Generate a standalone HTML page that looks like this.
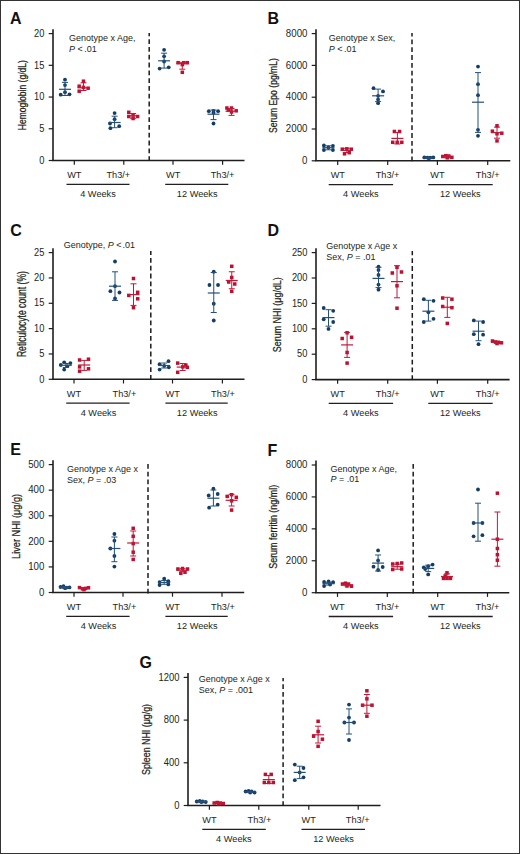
<!DOCTYPE html>
<html><head><meta charset="utf-8"><style>
html,body{margin:0;padding:0;background:#fff;}
body{width:520px;height:854px;overflow:hidden;position:relative;}
.bd{position:absolute;left:0;top:0;width:518px;height:852px;border:1px solid #333;}
svg{display:block;font-family:"Liberation Sans", sans-serif;}
</style></head><body>
<svg width="520" height="854" viewBox="0 0 520 854">
<rect x="0" y="0" width="520" height="854" fill="#fff"/>
<text transform="translate(10.00,23.50) scale(1,1.03)" font-size="16" text-anchor="start" font-weight="bold" fill="#111" >A</text>
<line x1="53" y1="29.199999999999996" x2="53" y2="160.5" stroke="#1e1e1e" stroke-width="1.6"/>
<line x1="48.7" y1="160.5" x2="53" y2="160.5" stroke="#1e1e1e" stroke-width="1.2"/>
<text transform="translate(44.40,163.70) scale(1,1.08)" font-size="9.3" text-anchor="end" font-weight="normal" fill="#231f20" >0</text>
<line x1="48.7" y1="128.775" x2="53" y2="128.775" stroke="#1e1e1e" stroke-width="1.2"/>
<text transform="translate(44.40,131.97) scale(1,1.08)" font-size="9.3" text-anchor="end" font-weight="normal" fill="#231f20" >5</text>
<line x1="48.7" y1="97.05" x2="53" y2="97.05" stroke="#1e1e1e" stroke-width="1.2"/>
<text transform="translate(44.40,100.25) scale(1,1.08)" font-size="9.3" text-anchor="end" font-weight="normal" fill="#231f20" >10</text>
<line x1="48.7" y1="65.325" x2="53" y2="65.325" stroke="#1e1e1e" stroke-width="1.2"/>
<text transform="translate(44.40,68.53) scale(1,1.08)" font-size="9.3" text-anchor="end" font-weight="normal" fill="#231f20" >15</text>
<line x1="48.7" y1="33.599999999999994" x2="53" y2="33.599999999999994" stroke="#1e1e1e" stroke-width="1.2"/>
<text transform="translate(44.40,36.80) scale(1,1.08)" font-size="9.3" text-anchor="end" font-weight="normal" fill="#231f20" >20</text>
<line x1="52.2" y1="160.5" x2="244.5" y2="160.5" stroke="#1e1e1e" stroke-width="1.6"/>
<line x1="74.3" y1="160.5" x2="74.3" y2="164.7" stroke="#1e1e1e" stroke-width="1.2"/>
<line x1="123.8" y1="160.5" x2="123.8" y2="164.7" stroke="#1e1e1e" stroke-width="1.2"/>
<line x1="173" y1="160.5" x2="173" y2="164.7" stroke="#1e1e1e" stroke-width="1.2"/>
<line x1="222.6" y1="160.5" x2="222.6" y2="164.7" stroke="#1e1e1e" stroke-width="1.2"/>
<line x1="149.2" y1="161.0" x2="149.2" y2="33" stroke="#1c1c1c" stroke-width="1.5" stroke-dasharray="4.8 3.0"/>
<text transform="translate(74.30,178.10) scale(1,1.08)" font-size="9.2" text-anchor="middle" font-weight="normal" fill="#231f20" >WT</text>
<text transform="translate(118.30,178.10) scale(1,1.08)" font-size="9.2" text-anchor="middle" font-weight="normal" fill="#231f20" >Th3/+</text>
<text transform="translate(173.20,178.10) scale(1,1.08)" font-size="9.2" text-anchor="middle" font-weight="normal" fill="#231f20" >WT</text>
<text transform="translate(222.60,178.10) scale(1,1.08)" font-size="9.2" text-anchor="middle" font-weight="normal" fill="#231f20" >Th3/+</text>
<line x1="66.5" y1="184.3" x2="129.5" y2="184.3" stroke="#231f20" stroke-width="1.3"/>
<text transform="translate(98.00,197.00) scale(1,1.08)" font-size="9.2" text-anchor="middle" font-weight="normal" fill="#231f20" >4 Weeks</text>
<line x1="165.2" y1="184.3" x2="228.3" y2="184.3" stroke="#231f20" stroke-width="1.3"/>
<text transform="translate(197.20,197.00) scale(1,1.08)" font-size="9.2" text-anchor="middle" font-weight="normal" fill="#231f20" >12 Weeks</text>
<text transform="translate(68.90,41.10) scale(1,1.08)" font-size="9.0" text-anchor="start" font-weight="normal" fill="#231f20" >Genotype x Age,</text>
<text transform="translate(68.90,51.80) scale(1,1.08)" font-size="9.0" text-anchor="start" font-weight="normal" fill="#231f20" ><tspan font-style="italic">P</tspan> &lt;<tspan dx="-1"> .01</tspan></text>
<text transform="translate(25.8,95.2) rotate(-90)" x="0" y="0" font-size="11.6" text-anchor="middle" font-weight="normal" fill="#231f20" stroke="#231f20" stroke-width="0.25" textLength="70" lengthAdjust="spacingAndGlyphs">Hemoglobin (g/dL)</text>
<circle cx="65.00" cy="79.7" r="1.9" fill="#133d65"/>
<circle cx="65.00" cy="85.1" r="1.9" fill="#133d65"/>
<circle cx="65.00" cy="92.2" r="1.9" fill="#133d65"/>
<circle cx="60.70" cy="94.7" r="1.9" fill="#133d65"/>
<circle cx="69.50" cy="94.3" r="1.9" fill="#133d65"/>
<line x1="65" y1="82.4" x2="65" y2="95.5" stroke="#24507a" stroke-width="1"/>
<line x1="62" y1="82.4" x2="68" y2="82.4" stroke="#24507a" stroke-width="1"/>
<line x1="62" y1="95.5" x2="68" y2="95.5" stroke="#24507a" stroke-width="1"/>
<line x1="59" y1="89.3" x2="71" y2="89.3" stroke="#24507a" stroke-width="1.2"/>
<rect x="81.75" y="79.45" width="3.5" height="3.5" fill="#bf0f2f"/>
<rect x="77.45" y="84.45" width="3.5" height="3.5" fill="#bf0f2f"/>
<rect x="81.75" y="85.65" width="3.5" height="3.5" fill="#bf0f2f"/>
<rect x="86.35" y="86.45" width="3.5" height="3.5" fill="#bf0f2f"/>
<rect x="77.45" y="89.45" width="3.5" height="3.5" fill="#bf0f2f"/>
<line x1="83.5" y1="82.8" x2="83.5" y2="90.5" stroke="#bd1a3a" stroke-width="1"/>
<line x1="80.5" y1="82.8" x2="86.5" y2="82.8" stroke="#bd1a3a" stroke-width="1"/>
<line x1="80.5" y1="90.5" x2="86.5" y2="90.5" stroke="#bd1a3a" stroke-width="1"/>
<line x1="77.5" y1="87.8" x2="89.5" y2="87.8" stroke="#bd1a3a" stroke-width="1.2"/>
<circle cx="114.60" cy="113.1" r="1.9" fill="#133d65"/>
<circle cx="114.60" cy="119.2" r="1.9" fill="#133d65"/>
<circle cx="110.00" cy="123.5" r="1.9" fill="#133d65"/>
<circle cx="119.20" cy="126.2" r="1.9" fill="#133d65"/>
<circle cx="110.40" cy="128.2" r="1.9" fill="#133d65"/>
<line x1="114.6" y1="116.2" x2="114.6" y2="127.7" stroke="#24507a" stroke-width="1"/>
<line x1="111.6" y1="116.2" x2="117.6" y2="116.2" stroke="#24507a" stroke-width="1"/>
<line x1="111.6" y1="127.7" x2="117.6" y2="127.7" stroke="#24507a" stroke-width="1"/>
<line x1="108.6" y1="122.5" x2="120.6" y2="122.5" stroke="#24507a" stroke-width="1.2"/>
<rect x="127.05" y="110.55" width="3.5" height="3.5" fill="#bf0f2f"/>
<rect x="127.05" y="114.75" width="3.5" height="3.5" fill="#bf0f2f"/>
<rect x="131.35" y="113.25" width="3.5" height="3.5" fill="#bf0f2f"/>
<rect x="135.85" y="114.75" width="3.5" height="3.5" fill="#bf0f2f"/>
<rect x="131.35" y="116.75" width="3.5" height="3.5" fill="#bf0f2f"/>
<line x1="133.1" y1="113.5" x2="133.1" y2="118.3" stroke="#bd1a3a" stroke-width="1"/>
<line x1="130.1" y1="113.5" x2="136.1" y2="113.5" stroke="#bd1a3a" stroke-width="1"/>
<line x1="130.1" y1="118.3" x2="136.1" y2="118.3" stroke="#bd1a3a" stroke-width="1"/>
<line x1="127.1" y1="115.8" x2="139.1" y2="115.8" stroke="#bd1a3a" stroke-width="1.2"/>
<circle cx="164.10" cy="49.8" r="1.9" fill="#133d65"/>
<circle cx="164.10" cy="56.3" r="1.9" fill="#133d65"/>
<circle cx="164.10" cy="61.5" r="1.9" fill="#133d65"/>
<circle cx="159.60" cy="68.6" r="1.9" fill="#133d65"/>
<circle cx="168.70" cy="67.3" r="1.9" fill="#133d65"/>
<line x1="164.1" y1="53.2" x2="164.1" y2="68.1" stroke="#24507a" stroke-width="1"/>
<line x1="161.1" y1="53.2" x2="167.1" y2="53.2" stroke="#24507a" stroke-width="1"/>
<line x1="161.1" y1="68.1" x2="167.1" y2="68.1" stroke="#24507a" stroke-width="1"/>
<line x1="158.1" y1="60.8" x2="170.1" y2="60.8" stroke="#24507a" stroke-width="1.2"/>
<rect x="176.35" y="60.95" width="3.5" height="3.5" fill="#bf0f2f"/>
<rect x="182.05" y="60.95" width="3.5" height="3.5" fill="#bf0f2f"/>
<rect x="185.55" y="60.95" width="3.5" height="3.5" fill="#bf0f2f"/>
<rect x="180.55" y="62.85" width="3.5" height="3.5" fill="#bf0f2f"/>
<rect x="180.55" y="70.55" width="3.5" height="3.5" fill="#bf0f2f"/>
<line x1="182.3" y1="62.3" x2="182.3" y2="69.2" stroke="#bd1a3a" stroke-width="1"/>
<line x1="179.3" y1="62.3" x2="185.3" y2="62.3" stroke="#bd1a3a" stroke-width="1"/>
<line x1="179.3" y1="69.2" x2="185.3" y2="69.2" stroke="#bd1a3a" stroke-width="1"/>
<line x1="176.3" y1="63.5" x2="188.3" y2="63.5" stroke="#bd1a3a" stroke-width="1.2"/>
<circle cx="208.80" cy="111.2" r="1.9" fill="#133d65"/>
<circle cx="213.50" cy="110.8" r="1.9" fill="#133d65"/>
<circle cx="218.10" cy="111.2" r="1.9" fill="#133d65"/>
<circle cx="213.50" cy="112.7" r="1.9" fill="#133d65"/>
<circle cx="213.50" cy="123.5" r="1.9" fill="#133d65"/>
<line x1="213.5" y1="110" x2="213.5" y2="119.6" stroke="#24507a" stroke-width="1"/>
<line x1="210.5" y1="110" x2="216.5" y2="110" stroke="#24507a" stroke-width="1"/>
<line x1="210.5" y1="119.6" x2="216.5" y2="119.6" stroke="#24507a" stroke-width="1"/>
<line x1="207.5" y1="114.2" x2="219.5" y2="114.2" stroke="#24507a" stroke-width="1.2"/>
<rect x="225.15" y="106.25" width="3.5" height="3.5" fill="#bf0f2f"/>
<rect x="229.75" y="106.25" width="3.5" height="3.5" fill="#bf0f2f"/>
<rect x="234.45" y="109.05" width="3.5" height="3.5" fill="#bf0f2f"/>
<rect x="226.75" y="108.25" width="3.5" height="3.5" fill="#bf0f2f"/>
<rect x="229.75" y="110.25" width="3.5" height="3.5" fill="#bf0f2f"/>
<line x1="231.5" y1="108.5" x2="231.5" y2="115.4" stroke="#bd1a3a" stroke-width="1"/>
<line x1="228.5" y1="108.5" x2="234.5" y2="108.5" stroke="#bd1a3a" stroke-width="1"/>
<line x1="228.5" y1="115.4" x2="234.5" y2="115.4" stroke="#bd1a3a" stroke-width="1"/>
<line x1="225.5" y1="111.2" x2="237.5" y2="111.2" stroke="#bd1a3a" stroke-width="1.2"/>
<text transform="translate(267.50,24.00) scale(1,1.03)" font-size="16" text-anchor="start" font-weight="bold" fill="#111" >B</text>
<line x1="316" y1="29.199999999999996" x2="316" y2="160.8" stroke="#1e1e1e" stroke-width="1.6"/>
<line x1="311.7" y1="160.8" x2="316" y2="160.8" stroke="#1e1e1e" stroke-width="1.2"/>
<text transform="translate(307.40,164.00) scale(1,1.08)" font-size="9.7" text-anchor="end" font-weight="normal" fill="#231f20" >0</text>
<line x1="311.7" y1="129.0" x2="316" y2="129.0" stroke="#1e1e1e" stroke-width="1.2"/>
<text transform="translate(307.40,132.20) scale(1,1.08)" font-size="9.7" text-anchor="end" font-weight="normal" fill="#231f20" >2000</text>
<line x1="311.7" y1="97.2" x2="316" y2="97.2" stroke="#1e1e1e" stroke-width="1.2"/>
<text transform="translate(307.40,100.40) scale(1,1.08)" font-size="9.7" text-anchor="end" font-weight="normal" fill="#231f20" >4000</text>
<line x1="311.7" y1="65.39999999999999" x2="316" y2="65.39999999999999" stroke="#1e1e1e" stroke-width="1.2"/>
<text transform="translate(307.40,68.60) scale(1,1.08)" font-size="9.7" text-anchor="end" font-weight="normal" fill="#231f20" >6000</text>
<line x1="311.7" y1="33.599999999999994" x2="316" y2="33.599999999999994" stroke="#1e1e1e" stroke-width="1.2"/>
<text transform="translate(307.40,36.80) scale(1,1.08)" font-size="9.7" text-anchor="end" font-weight="normal" fill="#231f20" >8000</text>
<line x1="315.2" y1="160.8" x2="510.3" y2="160.8" stroke="#1e1e1e" stroke-width="1.6"/>
<line x1="337.7" y1="160.8" x2="337.7" y2="165.0" stroke="#1e1e1e" stroke-width="1.2"/>
<line x1="387.7" y1="160.8" x2="387.7" y2="165.0" stroke="#1e1e1e" stroke-width="1.2"/>
<line x1="437.4" y1="160.8" x2="437.4" y2="165.0" stroke="#1e1e1e" stroke-width="1.2"/>
<line x1="487.7" y1="160.8" x2="487.7" y2="165.0" stroke="#1e1e1e" stroke-width="1.2"/>
<line x1="412" y1="161.3" x2="412" y2="33" stroke="#1c1c1c" stroke-width="1.5" stroke-dasharray="4.8 3.0"/>
<text transform="translate(337.80,178.40) scale(1,1.08)" font-size="9.2" text-anchor="middle" font-weight="normal" fill="#231f20" >WT</text>
<text transform="translate(387.60,178.40) scale(1,1.08)" font-size="9.2" text-anchor="middle" font-weight="normal" fill="#231f20" >Th3/+</text>
<text transform="translate(437.40,178.40) scale(1,1.08)" font-size="9.2" text-anchor="middle" font-weight="normal" fill="#231f20" >WT</text>
<text transform="translate(487.70,178.40) scale(1,1.08)" font-size="9.2" text-anchor="middle" font-weight="normal" fill="#231f20" >Th3/+</text>
<line x1="328.7" y1="184.60000000000002" x2="393.1" y2="184.60000000000002" stroke="#231f20" stroke-width="1.3"/>
<text transform="translate(360.90,197.30) scale(1,1.08)" font-size="9.2" text-anchor="middle" font-weight="normal" fill="#231f20" >4 Weeks</text>
<line x1="428.3" y1="184.60000000000002" x2="492.7" y2="184.60000000000002" stroke="#231f20" stroke-width="1.3"/>
<text transform="translate(460.30,197.30) scale(1,1.08)" font-size="9.2" text-anchor="middle" font-weight="normal" fill="#231f20" >12 Weeks</text>
<text transform="translate(328.75,41.30) scale(1,1.08)" font-size="9.0" text-anchor="start" font-weight="normal" fill="#231f20" >Genotype x Sex,</text>
<text transform="translate(328.75,51.80) scale(1,1.08)" font-size="9.0" text-anchor="start" font-weight="normal" fill="#231f20" ><tspan font-style="italic">P</tspan> &lt;<tspan dx="-1"> .01</tspan></text>
<text transform="translate(277.3,95.6) rotate(-90)" x="0" y="0" font-size="11.6" text-anchor="middle" font-weight="normal" fill="#231f20" stroke="#231f20" stroke-width="0.25" textLength="75" lengthAdjust="spacingAndGlyphs">Serum Epo (pg/mL)</text>
<circle cx="323.90" cy="145.5" r="1.9" fill="#133d65"/>
<circle cx="332.90" cy="145.8" r="1.9" fill="#133d65"/>
<circle cx="328.40" cy="147.5" r="1.9" fill="#133d65"/>
<circle cx="323.90" cy="150" r="1.9" fill="#133d65"/>
<circle cx="332.90" cy="150" r="1.9" fill="#133d65"/>
<line x1="328.4" y1="145.8" x2="328.4" y2="149.8" stroke="#24507a" stroke-width="1"/>
<line x1="325.4" y1="145.8" x2="331.4" y2="145.8" stroke="#24507a" stroke-width="1"/>
<line x1="325.4" y1="149.8" x2="331.4" y2="149.8" stroke="#24507a" stroke-width="1"/>
<line x1="322.4" y1="147.7" x2="334.4" y2="147.7" stroke="#24507a" stroke-width="1.2"/>
<rect x="340.55" y="147.45" width="3.5" height="3.5" fill="#bf0f2f"/>
<rect x="345.05" y="147.05" width="3.5" height="3.5" fill="#bf0f2f"/>
<rect x="349.55" y="147.45" width="3.5" height="3.5" fill="#bf0f2f"/>
<rect x="342.75" y="152.05" width="3.5" height="3.5" fill="#bf0f2f"/>
<rect x="347.45" y="150.95" width="3.5" height="3.5" fill="#bf0f2f"/>
<line x1="346.8" y1="148.3" x2="346.8" y2="152.5" stroke="#bd1a3a" stroke-width="1"/>
<line x1="343.8" y1="148.3" x2="349.8" y2="148.3" stroke="#bd1a3a" stroke-width="1"/>
<line x1="343.8" y1="152.5" x2="349.8" y2="152.5" stroke="#bd1a3a" stroke-width="1"/>
<line x1="340.8" y1="150.4" x2="352.8" y2="150.4" stroke="#bd1a3a" stroke-width="1.2"/>
<circle cx="373.50" cy="88.2" r="1.9" fill="#133d65"/>
<circle cx="383.00" cy="91.4" r="1.9" fill="#133d65"/>
<circle cx="378.10" cy="95.8" r="1.9" fill="#133d65"/>
<circle cx="378.10" cy="99.5" r="1.9" fill="#133d65"/>
<circle cx="378.10" cy="103.2" r="1.9" fill="#133d65"/>
<line x1="378.1" y1="89.1" x2="378.1" y2="101.6" stroke="#24507a" stroke-width="1"/>
<line x1="375.1" y1="89.1" x2="381.1" y2="89.1" stroke="#24507a" stroke-width="1"/>
<line x1="375.1" y1="101.6" x2="381.1" y2="101.6" stroke="#24507a" stroke-width="1"/>
<line x1="372.1" y1="95.8" x2="384.1" y2="95.8" stroke="#24507a" stroke-width="1.2"/>
<rect x="392.65" y="129.75" width="3.5" height="3.5" fill="#bf0f2f"/>
<rect x="397.85" y="129.75" width="3.5" height="3.5" fill="#bf0f2f"/>
<rect x="390.95" y="140.55" width="3.5" height="3.5" fill="#bf0f2f"/>
<rect x="395.45" y="140.55" width="3.5" height="3.5" fill="#bf0f2f"/>
<rect x="400.05" y="140.55" width="3.5" height="3.5" fill="#bf0f2f"/>
<line x1="397.4" y1="132.5" x2="397.4" y2="144" stroke="#bd1a3a" stroke-width="1"/>
<line x1="394.4" y1="132.5" x2="400.4" y2="132.5" stroke="#bd1a3a" stroke-width="1"/>
<line x1="394.4" y1="144" x2="400.4" y2="144" stroke="#bd1a3a" stroke-width="1"/>
<line x1="391.4" y1="138.4" x2="403.4" y2="138.4" stroke="#bd1a3a" stroke-width="1.2"/>
<circle cx="424.30" cy="157.4" r="1.9" fill="#133d65"/>
<circle cx="427.30" cy="157.6" r="1.9" fill="#133d65"/>
<circle cx="430.30" cy="157.6" r="1.9" fill="#133d65"/>
<circle cx="433.30" cy="157.4" r="1.9" fill="#133d65"/>
<circle cx="428.80" cy="158.2" r="1.9" fill="#133d65"/>
<line x1="428.8" y1="157.2" x2="428.8" y2="158.4" stroke="#24507a" stroke-width="1"/>
<line x1="425.8" y1="157.2" x2="431.8" y2="157.2" stroke="#24507a" stroke-width="1"/>
<line x1="425.8" y1="158.4" x2="431.8" y2="158.4" stroke="#24507a" stroke-width="1"/>
<line x1="422.8" y1="157.8" x2="434.8" y2="157.8" stroke="#24507a" stroke-width="1.2"/>
<rect x="441.05" y="154.75" width="3.5" height="3.5" fill="#bf0f2f"/>
<rect x="444.05" y="153.95" width="3.5" height="3.5" fill="#bf0f2f"/>
<rect x="447.05" y="154.25" width="3.5" height="3.5" fill="#bf0f2f"/>
<rect x="450.05" y="155.55" width="3.5" height="3.5" fill="#bf0f2f"/>
<rect x="445.55" y="156.05" width="3.5" height="3.5" fill="#bf0f2f"/>
<line x1="447.3" y1="155.8" x2="447.3" y2="157.8" stroke="#bd1a3a" stroke-width="1"/>
<line x1="444.3" y1="155.8" x2="450.3" y2="155.8" stroke="#bd1a3a" stroke-width="1"/>
<line x1="444.3" y1="157.8" x2="450.3" y2="157.8" stroke="#bd1a3a" stroke-width="1"/>
<line x1="441.3" y1="156.8" x2="453.3" y2="156.8" stroke="#bd1a3a" stroke-width="1.2"/>
<circle cx="478.00" cy="66.6" r="1.9" fill="#133d65"/>
<circle cx="478.00" cy="84.2" r="1.9" fill="#133d65"/>
<circle cx="478.00" cy="95.2" r="1.9" fill="#133d65"/>
<circle cx="478.00" cy="129.8" r="1.9" fill="#133d65"/>
<circle cx="478.00" cy="135.8" r="1.9" fill="#133d65"/>
<line x1="478" y1="72.6" x2="478" y2="132.4" stroke="#24507a" stroke-width="1"/>
<line x1="475" y1="72.6" x2="481" y2="72.6" stroke="#24507a" stroke-width="1"/>
<line x1="475" y1="132.4" x2="481" y2="132.4" stroke="#24507a" stroke-width="1"/>
<line x1="472" y1="102.2" x2="484" y2="102.2" stroke="#24507a" stroke-width="1.2"/>
<rect x="495.25" y="124.05" width="3.5" height="3.5" fill="#bf0f2f"/>
<rect x="490.65" y="129.45" width="3.5" height="3.5" fill="#bf0f2f"/>
<rect x="500.05" y="131.45" width="3.5" height="3.5" fill="#bf0f2f"/>
<rect x="495.25" y="132.05" width="3.5" height="3.5" fill="#bf0f2f"/>
<rect x="495.25" y="139.15" width="3.5" height="3.5" fill="#bf0f2f"/>
<line x1="497" y1="127.1" x2="497" y2="138.2" stroke="#bd1a3a" stroke-width="1"/>
<line x1="494" y1="127.1" x2="500" y2="127.1" stroke="#bd1a3a" stroke-width="1"/>
<line x1="494" y1="138.2" x2="500" y2="138.2" stroke="#bd1a3a" stroke-width="1"/>
<line x1="491" y1="132.6" x2="503" y2="132.6" stroke="#bd1a3a" stroke-width="1.2"/>
<text transform="translate(10.30,235.50) scale(1,1.03)" font-size="16" text-anchor="start" font-weight="bold" fill="#111" >C</text>
<line x1="53" y1="248.2" x2="53" y2="379.3" stroke="#1e1e1e" stroke-width="1.6"/>
<line x1="48.7" y1="379.3" x2="53" y2="379.3" stroke="#1e1e1e" stroke-width="1.2"/>
<text transform="translate(44.40,382.50) scale(1,1.08)" font-size="9.3" text-anchor="end" font-weight="normal" fill="#231f20" >0</text>
<line x1="48.7" y1="353.96000000000004" x2="53" y2="353.96000000000004" stroke="#1e1e1e" stroke-width="1.2"/>
<text transform="translate(44.40,357.16) scale(1,1.08)" font-size="9.3" text-anchor="end" font-weight="normal" fill="#231f20" >5</text>
<line x1="48.7" y1="328.62" x2="53" y2="328.62" stroke="#1e1e1e" stroke-width="1.2"/>
<text transform="translate(44.40,331.82) scale(1,1.08)" font-size="9.3" text-anchor="end" font-weight="normal" fill="#231f20" >10</text>
<line x1="48.7" y1="303.28" x2="53" y2="303.28" stroke="#1e1e1e" stroke-width="1.2"/>
<text transform="translate(44.40,306.48) scale(1,1.08)" font-size="9.3" text-anchor="end" font-weight="normal" fill="#231f20" >15</text>
<line x1="48.7" y1="277.94" x2="53" y2="277.94" stroke="#1e1e1e" stroke-width="1.2"/>
<text transform="translate(44.40,281.14) scale(1,1.08)" font-size="9.3" text-anchor="end" font-weight="normal" fill="#231f20" >20</text>
<line x1="48.7" y1="252.6" x2="53" y2="252.6" stroke="#1e1e1e" stroke-width="1.2"/>
<text transform="translate(44.40,255.80) scale(1,1.08)" font-size="9.3" text-anchor="end" font-weight="normal" fill="#231f20" >25</text>
<line x1="52.2" y1="379.3" x2="244.5" y2="379.3" stroke="#1e1e1e" stroke-width="1.6"/>
<line x1="74" y1="379.3" x2="74" y2="383.5" stroke="#1e1e1e" stroke-width="1.2"/>
<line x1="123.5" y1="379.3" x2="123.5" y2="383.5" stroke="#1e1e1e" stroke-width="1.2"/>
<line x1="172.5" y1="379.3" x2="172.5" y2="383.5" stroke="#1e1e1e" stroke-width="1.2"/>
<line x1="222.4" y1="379.3" x2="222.4" y2="383.5" stroke="#1e1e1e" stroke-width="1.2"/>
<line x1="150.8" y1="379.8" x2="150.8" y2="251" stroke="#1c1c1c" stroke-width="1.5" stroke-dasharray="4.8 3.0"/>
<text transform="translate(74.00,396.90) scale(1,1.08)" font-size="9.2" text-anchor="middle" font-weight="normal" fill="#231f20" >WT</text>
<text transform="translate(124.40,396.90) scale(1,1.08)" font-size="9.2" text-anchor="middle" font-weight="normal" fill="#231f20" >Th3/+</text>
<text transform="translate(172.70,396.90) scale(1,1.08)" font-size="9.2" text-anchor="middle" font-weight="normal" fill="#231f20" >WT</text>
<text transform="translate(223.00,396.90) scale(1,1.08)" font-size="9.2" text-anchor="middle" font-weight="normal" fill="#231f20" >Th3/+</text>
<line x1="66.2" y1="403.1" x2="129.6" y2="403.1" stroke="#231f20" stroke-width="1.3"/>
<text transform="translate(98.50,415.80) scale(1,1.08)" font-size="9.2" text-anchor="middle" font-weight="normal" fill="#231f20" >4 Weeks</text>
<line x1="165.4" y1="403.1" x2="227.7" y2="403.1" stroke="#231f20" stroke-width="1.3"/>
<text transform="translate(197.20,415.80) scale(1,1.08)" font-size="9.2" text-anchor="middle" font-weight="normal" fill="#231f20" >12 Weeks</text>
<text transform="translate(63.75,248.40) scale(1,1.08)" font-size="9.0" text-anchor="start" font-weight="normal" fill="#231f20" >Genotype, <tspan font-style="italic">P</tspan> &lt;<tspan dx="-1.4"> .01</tspan></text>
<text transform="translate(26.2,314.1) rotate(-90)" x="0" y="0" font-size="12.0" text-anchor="middle" font-weight="normal" fill="#231f20" stroke="#231f20" stroke-width="0.25" textLength="86" lengthAdjust="spacingAndGlyphs">Reticulocyte count (%)</text>
<circle cx="60.80" cy="365" r="1.9" fill="#133d65"/>
<circle cx="64.20" cy="362.3" r="1.9" fill="#133d65"/>
<circle cx="70.40" cy="363.1" r="1.9" fill="#133d65"/>
<circle cx="67.30" cy="366.2" r="1.9" fill="#133d65"/>
<circle cx="64.20" cy="369.6" r="1.9" fill="#133d65"/>
<line x1="65.8" y1="363.5" x2="65.8" y2="367.5" stroke="#24507a" stroke-width="1"/>
<line x1="62.8" y1="363.5" x2="68.8" y2="363.5" stroke="#24507a" stroke-width="1"/>
<line x1="62.8" y1="367.5" x2="68.8" y2="367.5" stroke="#24507a" stroke-width="1"/>
<line x1="59.8" y1="365.3" x2="71.8" y2="365.3" stroke="#24507a" stroke-width="1.2"/>
<rect x="77.85" y="358.25" width="3.5" height="3.5" fill="#bf0f2f"/>
<rect x="86.75" y="357.45" width="3.5" height="3.5" fill="#bf0f2f"/>
<rect x="77.85" y="365.15" width="3.5" height="3.5" fill="#bf0f2f"/>
<rect x="86.75" y="367.05" width="3.5" height="3.5" fill="#bf0f2f"/>
<rect x="77.85" y="369.45" width="3.5" height="3.5" fill="#bf0f2f"/>
<line x1="84.2" y1="360.4" x2="84.2" y2="370.4" stroke="#bd1a3a" stroke-width="1"/>
<line x1="81.2" y1="360.4" x2="87.2" y2="360.4" stroke="#bd1a3a" stroke-width="1"/>
<line x1="81.2" y1="370.4" x2="87.2" y2="370.4" stroke="#bd1a3a" stroke-width="1"/>
<line x1="78.2" y1="365" x2="90.2" y2="365" stroke="#bd1a3a" stroke-width="1.2"/>
<circle cx="115.00" cy="261.5" r="1.9" fill="#133d65"/>
<circle cx="115.00" cy="286.2" r="1.9" fill="#133d65"/>
<circle cx="110.40" cy="291.2" r="1.9" fill="#133d65"/>
<circle cx="119.50" cy="292.5" r="1.9" fill="#133d65"/>
<circle cx="115.00" cy="298.5" r="1.9" fill="#133d65"/>
<line x1="115" y1="271.8" x2="115" y2="300.4" stroke="#24507a" stroke-width="1"/>
<line x1="112" y1="271.8" x2="118" y2="271.8" stroke="#24507a" stroke-width="1"/>
<line x1="112" y1="300.4" x2="118" y2="300.4" stroke="#24507a" stroke-width="1"/>
<line x1="109" y1="286.2" x2="121" y2="286.2" stroke="#24507a" stroke-width="1.2"/>
<rect x="131.75" y="276.75" width="3.5" height="3.5" fill="#bf0f2f"/>
<rect x="135.95" y="290.55" width="3.5" height="3.5" fill="#bf0f2f"/>
<rect x="127.05" y="293.65" width="3.5" height="3.5" fill="#bf0f2f"/>
<rect x="135.95" y="297.05" width="3.5" height="3.5" fill="#bf0f2f"/>
<rect x="131.75" y="305.95" width="3.5" height="3.5" fill="#bf0f2f"/>
<line x1="133.5" y1="283.8" x2="133.5" y2="305.4" stroke="#bd1a3a" stroke-width="1"/>
<line x1="130.5" y1="283.8" x2="136.5" y2="283.8" stroke="#bd1a3a" stroke-width="1"/>
<line x1="130.5" y1="305.4" x2="136.5" y2="305.4" stroke="#bd1a3a" stroke-width="1"/>
<line x1="127.5" y1="294.6" x2="139.5" y2="294.6" stroke="#bd1a3a" stroke-width="1.2"/>
<circle cx="168.50" cy="361.2" r="1.9" fill="#133d65"/>
<circle cx="159.60" cy="364.2" r="1.9" fill="#133d65"/>
<circle cx="164.20" cy="365.8" r="1.9" fill="#133d65"/>
<circle cx="168.80" cy="367.3" r="1.9" fill="#133d65"/>
<circle cx="159.60" cy="369.6" r="1.9" fill="#133d65"/>
<line x1="164.2" y1="363" x2="164.2" y2="368" stroke="#24507a" stroke-width="1"/>
<line x1="161.2" y1="363" x2="167.2" y2="363" stroke="#24507a" stroke-width="1"/>
<line x1="161.2" y1="368" x2="167.2" y2="368" stroke="#24507a" stroke-width="1"/>
<line x1="158.2" y1="365.5" x2="170.2" y2="365.5" stroke="#24507a" stroke-width="1.2"/>
<rect x="175.95" y="361.35" width="3.5" height="3.5" fill="#bf0f2f"/>
<rect x="184.05" y="363.25" width="3.5" height="3.5" fill="#bf0f2f"/>
<rect x="180.95" y="365.15" width="3.5" height="3.5" fill="#bf0f2f"/>
<rect x="185.55" y="365.55" width="3.5" height="3.5" fill="#bf0f2f"/>
<rect x="175.95" y="370.55" width="3.5" height="3.5" fill="#bf0f2f"/>
<line x1="182.7" y1="363.5" x2="182.7" y2="370.5" stroke="#bd1a3a" stroke-width="1"/>
<line x1="179.7" y1="363.5" x2="185.7" y2="363.5" stroke="#bd1a3a" stroke-width="1"/>
<line x1="179.7" y1="370.5" x2="185.7" y2="370.5" stroke="#bd1a3a" stroke-width="1"/>
<line x1="176.7" y1="367.1" x2="188.7" y2="367.1" stroke="#bd1a3a" stroke-width="1.2"/>
<circle cx="213.75" cy="271.75" r="1.9" fill="#133d65"/>
<circle cx="209.45" cy="285" r="1.9" fill="#133d65"/>
<circle cx="218.05" cy="285" r="1.9" fill="#133d65"/>
<circle cx="213.75" cy="303.75" r="1.9" fill="#133d65"/>
<circle cx="213.75" cy="320.5" r="1.9" fill="#133d65"/>
<line x1="213.75" y1="272.5" x2="213.75" y2="312.5" stroke="#24507a" stroke-width="1"/>
<line x1="210.75" y1="272.5" x2="216.75" y2="272.5" stroke="#24507a" stroke-width="1"/>
<line x1="210.75" y1="312.5" x2="216.75" y2="312.5" stroke="#24507a" stroke-width="1"/>
<line x1="207.75" y1="293" x2="219.75" y2="293" stroke="#24507a" stroke-width="1.2"/>
<rect x="230.00" y="264.55" width="3.5" height="3.5" fill="#bf0f2f"/>
<rect x="230.00" y="275.75" width="3.5" height="3.5" fill="#bf0f2f"/>
<rect x="227.00" y="280.25" width="3.5" height="3.5" fill="#bf0f2f"/>
<rect x="233.00" y="282.25" width="3.5" height="3.5" fill="#bf0f2f"/>
<rect x="230.00" y="289.55" width="3.5" height="3.5" fill="#bf0f2f"/>
<line x1="231.75" y1="271.75" x2="231.75" y2="288.75" stroke="#bd1a3a" stroke-width="1"/>
<line x1="228.75" y1="271.75" x2="234.75" y2="271.75" stroke="#bd1a3a" stroke-width="1"/>
<line x1="228.75" y1="288.75" x2="234.75" y2="288.75" stroke="#bd1a3a" stroke-width="1"/>
<line x1="225.75" y1="280.5" x2="237.75" y2="280.5" stroke="#bd1a3a" stroke-width="1.2"/>
<text transform="translate(267.50,236.30) scale(1,1.03)" font-size="16" text-anchor="start" font-weight="bold" fill="#111" >D</text>
<line x1="316" y1="248.2" x2="316" y2="379.6" stroke="#1e1e1e" stroke-width="1.6"/>
<line x1="311.7" y1="379.6" x2="316" y2="379.6" stroke="#1e1e1e" stroke-width="1.2"/>
<text transform="translate(307.40,382.80) scale(1,1.08)" font-size="9.3" text-anchor="end" font-weight="normal" fill="#231f20" >0</text>
<line x1="311.7" y1="354.20000000000005" x2="316" y2="354.20000000000005" stroke="#1e1e1e" stroke-width="1.2"/>
<text transform="translate(307.40,357.40) scale(1,1.08)" font-size="9.3" text-anchor="end" font-weight="normal" fill="#231f20" >50</text>
<line x1="311.7" y1="328.8" x2="316" y2="328.8" stroke="#1e1e1e" stroke-width="1.2"/>
<text transform="translate(307.40,332.00) scale(1,1.08)" font-size="9.3" text-anchor="end" font-weight="normal" fill="#231f20" >100</text>
<line x1="311.7" y1="303.4" x2="316" y2="303.4" stroke="#1e1e1e" stroke-width="1.2"/>
<text transform="translate(307.40,306.60) scale(1,1.08)" font-size="9.3" text-anchor="end" font-weight="normal" fill="#231f20" >150</text>
<line x1="311.7" y1="278.0" x2="316" y2="278.0" stroke="#1e1e1e" stroke-width="1.2"/>
<text transform="translate(307.40,281.20) scale(1,1.08)" font-size="9.3" text-anchor="end" font-weight="normal" fill="#231f20" >200</text>
<line x1="311.7" y1="252.6" x2="316" y2="252.6" stroke="#1e1e1e" stroke-width="1.2"/>
<text transform="translate(307.40,255.80) scale(1,1.08)" font-size="9.3" text-anchor="end" font-weight="normal" fill="#231f20" >250</text>
<line x1="315.2" y1="379.6" x2="509.6" y2="379.6" stroke="#1e1e1e" stroke-width="1.6"/>
<line x1="337.6" y1="379.6" x2="337.6" y2="383.8" stroke="#1e1e1e" stroke-width="1.2"/>
<line x1="387.7" y1="379.6" x2="387.7" y2="383.8" stroke="#1e1e1e" stroke-width="1.2"/>
<line x1="437.4" y1="379.6" x2="437.4" y2="383.8" stroke="#1e1e1e" stroke-width="1.2"/>
<line x1="487.7" y1="379.6" x2="487.7" y2="383.8" stroke="#1e1e1e" stroke-width="1.2"/>
<line x1="412.3" y1="380.1" x2="412.3" y2="251" stroke="#1c1c1c" stroke-width="1.5" stroke-dasharray="4.8 3.0"/>
<text transform="translate(337.60,397.20) scale(1,1.08)" font-size="9.2" text-anchor="middle" font-weight="normal" fill="#231f20" >WT</text>
<text transform="translate(387.70,397.20) scale(1,1.08)" font-size="9.2" text-anchor="middle" font-weight="normal" fill="#231f20" >Th3/+</text>
<text transform="translate(437.40,397.20) scale(1,1.08)" font-size="9.2" text-anchor="middle" font-weight="normal" fill="#231f20" >WT</text>
<text transform="translate(487.70,397.20) scale(1,1.08)" font-size="9.2" text-anchor="middle" font-weight="normal" fill="#231f20" >Th3/+</text>
<line x1="328.7" y1="403.40000000000003" x2="393.1" y2="403.40000000000003" stroke="#231f20" stroke-width="1.3"/>
<text transform="translate(360.90,416.10) scale(1,1.08)" font-size="9.2" text-anchor="middle" font-weight="normal" fill="#231f20" >4 Weeks</text>
<line x1="428.3" y1="403.40000000000003" x2="492.7" y2="403.40000000000003" stroke="#231f20" stroke-width="1.3"/>
<text transform="translate(460.30,416.10) scale(1,1.08)" font-size="9.2" text-anchor="middle" font-weight="normal" fill="#231f20" >12 Weeks</text>
<text transform="translate(326.25,249.00) scale(1,1.08)" font-size="9.0" text-anchor="start" font-weight="normal" fill="#231f20" >Genotype x Age x</text>
<text transform="translate(326.25,259.60) scale(1,1.08)" font-size="9.0" text-anchor="start" font-weight="normal" fill="#231f20" >Sex, <tspan font-style="italic">P</tspan> = .01</text>
<text transform="translate(281.2,314.7) rotate(-90)" x="0" y="0" font-size="11.6" text-anchor="middle" font-weight="normal" fill="#231f20" stroke="#231f20" stroke-width="0.25" textLength="75" lengthAdjust="spacingAndGlyphs">Serum NHI (μg/dL)</text>
<circle cx="323.70" cy="308" r="1.9" fill="#133d65"/>
<circle cx="333.20" cy="310.8" r="1.9" fill="#133d65"/>
<circle cx="323.70" cy="319.3" r="1.9" fill="#133d65"/>
<circle cx="333.20" cy="322" r="1.9" fill="#133d65"/>
<circle cx="328.50" cy="328.9" r="1.9" fill="#133d65"/>
<line x1="328.5" y1="309.7" x2="328.5" y2="326.2" stroke="#24507a" stroke-width="1"/>
<line x1="325.5" y1="309.7" x2="331.5" y2="309.7" stroke="#24507a" stroke-width="1"/>
<line x1="325.5" y1="326.2" x2="331.5" y2="326.2" stroke="#24507a" stroke-width="1"/>
<line x1="322.5" y1="317.6" x2="334.5" y2="317.6" stroke="#24507a" stroke-width="1.2"/>
<rect x="345.35" y="331.05" width="3.5" height="3.5" fill="#bf0f2f"/>
<rect x="340.45" y="336.75" width="3.5" height="3.5" fill="#bf0f2f"/>
<rect x="349.85" y="335.55" width="3.5" height="3.5" fill="#bf0f2f"/>
<rect x="345.35" y="350.75" width="3.5" height="3.5" fill="#bf0f2f"/>
<rect x="345.35" y="361.35" width="3.5" height="3.5" fill="#bf0f2f"/>
<line x1="347.1" y1="332.4" x2="347.1" y2="357.4" stroke="#bd1a3a" stroke-width="1"/>
<line x1="344.1" y1="332.4" x2="350.1" y2="332.4" stroke="#bd1a3a" stroke-width="1"/>
<line x1="344.1" y1="357.4" x2="350.1" y2="357.4" stroke="#bd1a3a" stroke-width="1"/>
<line x1="341.1" y1="344.9" x2="353.1" y2="344.9" stroke="#bd1a3a" stroke-width="1.2"/>
<circle cx="378.50" cy="266.6" r="1.9" fill="#133d65"/>
<circle cx="378.50" cy="270" r="1.9" fill="#133d65"/>
<circle cx="378.50" cy="275" r="1.9" fill="#133d65"/>
<circle cx="378.50" cy="284.6" r="1.9" fill="#133d65"/>
<circle cx="378.50" cy="289.7" r="1.9" fill="#133d65"/>
<line x1="378.5" y1="267.3" x2="378.5" y2="287.6" stroke="#24507a" stroke-width="1"/>
<line x1="375.5" y1="267.3" x2="381.5" y2="267.3" stroke="#24507a" stroke-width="1"/>
<line x1="375.5" y1="287.6" x2="381.5" y2="287.6" stroke="#24507a" stroke-width="1"/>
<line x1="372.5" y1="278.4" x2="384.5" y2="278.4" stroke="#24507a" stroke-width="1.2"/>
<rect x="395.25" y="265.55" width="3.5" height="3.5" fill="#bf0f2f"/>
<rect x="390.55" y="271.25" width="3.5" height="3.5" fill="#bf0f2f"/>
<rect x="399.75" y="270.25" width="3.5" height="3.5" fill="#bf0f2f"/>
<rect x="395.25" y="284.05" width="3.5" height="3.5" fill="#bf0f2f"/>
<rect x="395.25" y="306.45" width="3.5" height="3.5" fill="#bf0f2f"/>
<line x1="397" y1="265.7" x2="397" y2="297.8" stroke="#bd1a3a" stroke-width="1"/>
<line x1="394" y1="265.7" x2="400" y2="265.7" stroke="#bd1a3a" stroke-width="1"/>
<line x1="394" y1="297.8" x2="400" y2="297.8" stroke="#bd1a3a" stroke-width="1"/>
<line x1="391" y1="281.6" x2="403" y2="281.6" stroke="#bd1a3a" stroke-width="1.2"/>
<circle cx="423.80" cy="299.2" r="1.9" fill="#133d65"/>
<circle cx="433.50" cy="300.8" r="1.9" fill="#133d65"/>
<circle cx="428.40" cy="312.3" r="1.9" fill="#133d65"/>
<circle cx="433.50" cy="318.8" r="1.9" fill="#133d65"/>
<circle cx="423.80" cy="322" r="1.9" fill="#133d65"/>
<line x1="428.4" y1="300.3" x2="428.4" y2="321.1" stroke="#24507a" stroke-width="1"/>
<line x1="425.4" y1="300.3" x2="431.4" y2="300.3" stroke="#24507a" stroke-width="1"/>
<line x1="425.4" y1="321.1" x2="431.4" y2="321.1" stroke="#24507a" stroke-width="1"/>
<line x1="422.4" y1="311.2" x2="434.4" y2="311.2" stroke="#24507a" stroke-width="1.2"/>
<rect x="440.95" y="296.25" width="3.5" height="3.5" fill="#bf0f2f"/>
<rect x="450.15" y="297.45" width="3.5" height="3.5" fill="#bf0f2f"/>
<rect x="440.95" y="304.75" width="3.5" height="3.5" fill="#bf0f2f"/>
<rect x="450.15" y="305.95" width="3.5" height="3.5" fill="#bf0f2f"/>
<rect x="445.55" y="321.65" width="3.5" height="3.5" fill="#bf0f2f"/>
<line x1="447.3" y1="297.3" x2="447.3" y2="317.4" stroke="#bd1a3a" stroke-width="1"/>
<line x1="444.3" y1="297.3" x2="450.3" y2="297.3" stroke="#bd1a3a" stroke-width="1"/>
<line x1="444.3" y1="317.4" x2="450.3" y2="317.4" stroke="#bd1a3a" stroke-width="1"/>
<line x1="441.3" y1="307.2" x2="453.3" y2="307.2" stroke="#bd1a3a" stroke-width="1.2"/>
<circle cx="473.80" cy="320.4" r="1.9" fill="#133d65"/>
<circle cx="483.10" cy="322" r="1.9" fill="#133d65"/>
<circle cx="473.80" cy="334.2" r="1.9" fill="#133d65"/>
<circle cx="483.10" cy="334.7" r="1.9" fill="#133d65"/>
<circle cx="478.50" cy="344.2" r="1.9" fill="#133d65"/>
<line x1="478.5" y1="321.1" x2="478.5" y2="340.7" stroke="#24507a" stroke-width="1"/>
<line x1="475.5" y1="321.1" x2="481.5" y2="321.1" stroke="#24507a" stroke-width="1"/>
<line x1="475.5" y1="340.7" x2="481.5" y2="340.7" stroke="#24507a" stroke-width="1"/>
<line x1="472.5" y1="331.2" x2="484.5" y2="331.2" stroke="#24507a" stroke-width="1.2"/>
<rect x="490.75" y="339.25" width="3.5" height="3.5" fill="#bf0f2f"/>
<rect x="493.75" y="340.25" width="3.5" height="3.5" fill="#bf0f2f"/>
<rect x="496.75" y="340.75" width="3.5" height="3.5" fill="#bf0f2f"/>
<rect x="499.75" y="341.05" width="3.5" height="3.5" fill="#bf0f2f"/>
<rect x="495.25" y="341.75" width="3.5" height="3.5" fill="#bf0f2f"/>
<line x1="497" y1="341.2" x2="497" y2="343.4" stroke="#bd1a3a" stroke-width="1"/>
<line x1="494" y1="341.2" x2="500" y2="341.2" stroke="#bd1a3a" stroke-width="1"/>
<line x1="494" y1="343.4" x2="500" y2="343.4" stroke="#bd1a3a" stroke-width="1"/>
<line x1="491" y1="342.3" x2="503" y2="342.3" stroke="#bd1a3a" stroke-width="1.2"/>
<text transform="translate(10.30,455.30) scale(1,1.03)" font-size="16" text-anchor="start" font-weight="bold" fill="#111" >E</text>
<line x1="53" y1="460.20000000000005" x2="53" y2="592.5" stroke="#1e1e1e" stroke-width="1.6"/>
<line x1="48.7" y1="592.5" x2="53" y2="592.5" stroke="#1e1e1e" stroke-width="1.2"/>
<text transform="translate(44.40,595.70) scale(1,1.08)" font-size="9.7" text-anchor="end" font-weight="normal" fill="#231f20" >0</text>
<line x1="48.7" y1="566.92" x2="53" y2="566.92" stroke="#1e1e1e" stroke-width="1.2"/>
<text transform="translate(44.40,570.12) scale(1,1.08)" font-size="9.7" text-anchor="end" font-weight="normal" fill="#231f20" >100</text>
<line x1="48.7" y1="541.34" x2="53" y2="541.34" stroke="#1e1e1e" stroke-width="1.2"/>
<text transform="translate(44.40,544.54) scale(1,1.08)" font-size="9.7" text-anchor="end" font-weight="normal" fill="#231f20" >200</text>
<line x1="48.7" y1="515.76" x2="53" y2="515.76" stroke="#1e1e1e" stroke-width="1.2"/>
<text transform="translate(44.40,518.96) scale(1,1.08)" font-size="9.7" text-anchor="end" font-weight="normal" fill="#231f20" >300</text>
<line x1="48.7" y1="490.18" x2="53" y2="490.18" stroke="#1e1e1e" stroke-width="1.2"/>
<text transform="translate(44.40,493.38) scale(1,1.08)" font-size="9.7" text-anchor="end" font-weight="normal" fill="#231f20" >400</text>
<line x1="48.7" y1="464.6" x2="53" y2="464.6" stroke="#1e1e1e" stroke-width="1.2"/>
<text transform="translate(44.40,467.80) scale(1,1.08)" font-size="9.7" text-anchor="end" font-weight="normal" fill="#231f20" >500</text>
<line x1="52.2" y1="592.5" x2="244.2" y2="592.5" stroke="#1e1e1e" stroke-width="1.6"/>
<line x1="74" y1="592.5" x2="74" y2="596.7" stroke="#1e1e1e" stroke-width="1.2"/>
<line x1="123" y1="592.5" x2="123" y2="596.7" stroke="#1e1e1e" stroke-width="1.2"/>
<line x1="172.5" y1="592.5" x2="172.5" y2="596.7" stroke="#1e1e1e" stroke-width="1.2"/>
<line x1="222" y1="592.5" x2="222" y2="596.7" stroke="#1e1e1e" stroke-width="1.2"/>
<line x1="148.0" y1="593.5" x2="148.0" y2="463.5" stroke="#1c1c1c" stroke-width="1.5" stroke-dasharray="4.8 3.0"/>
<text transform="translate(74.00,610.10) scale(1,1.08)" font-size="9.2" text-anchor="middle" font-weight="normal" fill="#231f20" >WT</text>
<text transform="translate(124.40,610.10) scale(1,1.08)" font-size="9.2" text-anchor="middle" font-weight="normal" fill="#231f20" >Th3/+</text>
<text transform="translate(172.70,610.10) scale(1,1.08)" font-size="9.2" text-anchor="middle" font-weight="normal" fill="#231f20" >WT</text>
<text transform="translate(223.00,610.10) scale(1,1.08)" font-size="9.2" text-anchor="middle" font-weight="normal" fill="#231f20" >Th3/+</text>
<line x1="66.2" y1="616.3" x2="129.6" y2="616.3" stroke="#231f20" stroke-width="1.3"/>
<text transform="translate(98.50,629.00) scale(1,1.08)" font-size="9.2" text-anchor="middle" font-weight="normal" fill="#231f20" >4 Weeks</text>
<line x1="165.4" y1="616.3" x2="227.7" y2="616.3" stroke="#231f20" stroke-width="1.3"/>
<text transform="translate(197.20,629.00) scale(1,1.08)" font-size="9.2" text-anchor="middle" font-weight="normal" fill="#231f20" >12 Weeks</text>
<text transform="translate(67.00,472.40) scale(1,1.08)" font-size="9.0" text-anchor="start" font-weight="normal" fill="#231f20" >Genotype x Age x</text>
<text transform="translate(67.00,482.50) scale(1,1.08)" font-size="9.0" text-anchor="start" font-weight="normal" fill="#231f20" >Sex, <tspan font-style="italic">P</tspan> = .03</text>
<text transform="translate(19.6,526.4) rotate(-90)" x="0" y="0" font-size="11.6" text-anchor="middle" font-weight="normal" fill="#231f20" stroke="#231f20" stroke-width="0.25" textLength="65" lengthAdjust="spacingAndGlyphs">Liver NHI (μg/g)</text>
<circle cx="60.50" cy="587" r="1.9" fill="#133d65"/>
<circle cx="63.50" cy="586.2" r="1.9" fill="#133d65"/>
<circle cx="66.50" cy="587.6" r="1.9" fill="#133d65"/>
<circle cx="69.50" cy="587.4" r="1.9" fill="#133d65"/>
<circle cx="65.00" cy="588.2" r="1.9" fill="#133d65"/>
<line x1="65" y1="586.5" x2="65" y2="588.3" stroke="#24507a" stroke-width="1"/>
<line x1="62" y1="586.5" x2="68" y2="586.5" stroke="#24507a" stroke-width="1"/>
<line x1="62" y1="588.3" x2="68" y2="588.3" stroke="#24507a" stroke-width="1"/>
<line x1="59" y1="587.4" x2="71" y2="587.4" stroke="#24507a" stroke-width="1.2"/>
<rect x="77.75" y="585.85" width="3.5" height="3.5" fill="#bf0f2f"/>
<rect x="80.75" y="587.05" width="3.5" height="3.5" fill="#bf0f2f"/>
<rect x="83.75" y="586.65" width="3.5" height="3.5" fill="#bf0f2f"/>
<rect x="86.75" y="586.05" width="3.5" height="3.5" fill="#bf0f2f"/>
<rect x="82.25" y="587.85" width="3.5" height="3.5" fill="#bf0f2f"/>
<line x1="84" y1="587.6" x2="84" y2="589.2" stroke="#bd1a3a" stroke-width="1"/>
<line x1="81" y1="587.6" x2="87" y2="587.6" stroke="#bd1a3a" stroke-width="1"/>
<line x1="81" y1="589.2" x2="87" y2="589.2" stroke="#bd1a3a" stroke-width="1"/>
<line x1="78" y1="588.4" x2="90" y2="588.4" stroke="#bd1a3a" stroke-width="1.2"/>
<circle cx="114.40" cy="534" r="1.9" fill="#133d65"/>
<circle cx="114.40" cy="540.7" r="1.9" fill="#133d65"/>
<circle cx="110.40" cy="548.5" r="1.9" fill="#133d65"/>
<circle cx="114.40" cy="556" r="1.9" fill="#133d65"/>
<circle cx="114.40" cy="566.6" r="1.9" fill="#133d65"/>
<line x1="114.4" y1="537" x2="114.4" y2="561.7" stroke="#24507a" stroke-width="1"/>
<line x1="111.4" y1="537" x2="117.4" y2="537" stroke="#24507a" stroke-width="1"/>
<line x1="111.4" y1="561.7" x2="117.4" y2="561.7" stroke="#24507a" stroke-width="1"/>
<line x1="108.4" y1="548.5" x2="120.4" y2="548.5" stroke="#24507a" stroke-width="1.2"/>
<rect x="131.45" y="526.55" width="3.5" height="3.5" fill="#bf0f2f"/>
<rect x="131.45" y="534.55" width="3.5" height="3.5" fill="#bf0f2f"/>
<rect x="131.45" y="541.85" width="3.5" height="3.5" fill="#bf0f2f"/>
<rect x="131.45" y="550.45" width="3.5" height="3.5" fill="#bf0f2f"/>
<rect x="131.45" y="557.65" width="3.5" height="3.5" fill="#bf0f2f"/>
<line x1="133.2" y1="531" x2="133.2" y2="556" stroke="#bd1a3a" stroke-width="1"/>
<line x1="130.2" y1="531" x2="136.2" y2="531" stroke="#bd1a3a" stroke-width="1"/>
<line x1="130.2" y1="556" x2="136.2" y2="556" stroke="#bd1a3a" stroke-width="1"/>
<line x1="127.19999999999999" y1="543" x2="139.2" y2="543" stroke="#bd1a3a" stroke-width="1.2"/>
<circle cx="164.20" cy="578.7" r="1.9" fill="#133d65"/>
<circle cx="159.60" cy="582.1" r="1.9" fill="#133d65"/>
<circle cx="168.30" cy="581.2" r="1.9" fill="#133d65"/>
<circle cx="159.60" cy="585" r="1.9" fill="#133d65"/>
<circle cx="168.30" cy="584.4" r="1.9" fill="#133d65"/>
<line x1="164.2" y1="580.5" x2="164.2" y2="584.3" stroke="#24507a" stroke-width="1"/>
<line x1="161.2" y1="580.5" x2="167.2" y2="580.5" stroke="#24507a" stroke-width="1"/>
<line x1="161.2" y1="584.3" x2="167.2" y2="584.3" stroke="#24507a" stroke-width="1"/>
<line x1="158.2" y1="582.5" x2="170.2" y2="582.5" stroke="#24507a" stroke-width="1.2"/>
<rect x="176.15" y="567.25" width="3.5" height="3.5" fill="#bf0f2f"/>
<rect x="180.75" y="566.75" width="3.5" height="3.5" fill="#bf0f2f"/>
<rect x="185.75" y="567.25" width="3.5" height="3.5" fill="#bf0f2f"/>
<rect x="179.05" y="571.55" width="3.5" height="3.5" fill="#bf0f2f"/>
<rect x="183.25" y="570.45" width="3.5" height="3.5" fill="#bf0f2f"/>
<line x1="182.5" y1="568.7" x2="182.5" y2="571.7" stroke="#bd1a3a" stroke-width="1"/>
<line x1="179.5" y1="568.7" x2="185.5" y2="568.7" stroke="#bd1a3a" stroke-width="1"/>
<line x1="179.5" y1="571.7" x2="185.5" y2="571.7" stroke="#bd1a3a" stroke-width="1"/>
<line x1="176.5" y1="570.2" x2="188.5" y2="570.2" stroke="#bd1a3a" stroke-width="1.2"/>
<circle cx="213.40" cy="488.7" r="1.9" fill="#133d65"/>
<circle cx="208.70" cy="495.4" r="1.9" fill="#133d65"/>
<circle cx="217.70" cy="494" r="1.9" fill="#133d65"/>
<circle cx="217.70" cy="504.7" r="1.9" fill="#133d65"/>
<circle cx="209.10" cy="507.7" r="1.9" fill="#133d65"/>
<line x1="213.4" y1="490" x2="213.4" y2="506" stroke="#24507a" stroke-width="1"/>
<line x1="210.4" y1="490" x2="216.4" y2="490" stroke="#24507a" stroke-width="1"/>
<line x1="210.4" y1="506" x2="216.4" y2="506" stroke="#24507a" stroke-width="1"/>
<line x1="207.4" y1="498.2" x2="219.4" y2="498.2" stroke="#24507a" stroke-width="1.2"/>
<rect x="229.85" y="492.95" width="3.5" height="3.5" fill="#bf0f2f"/>
<rect x="225.45" y="494.65" width="3.5" height="3.5" fill="#bf0f2f"/>
<rect x="234.55" y="495.55" width="3.5" height="3.5" fill="#bf0f2f"/>
<rect x="229.85" y="499.05" width="3.5" height="3.5" fill="#bf0f2f"/>
<rect x="229.85" y="508.35" width="3.5" height="3.5" fill="#bf0f2f"/>
<line x1="231.6" y1="494.3" x2="231.6" y2="506" stroke="#bd1a3a" stroke-width="1"/>
<line x1="228.6" y1="494.3" x2="234.6" y2="494.3" stroke="#bd1a3a" stroke-width="1"/>
<line x1="228.6" y1="506" x2="234.6" y2="506" stroke="#bd1a3a" stroke-width="1"/>
<line x1="225.6" y1="500.3" x2="237.6" y2="500.3" stroke="#bd1a3a" stroke-width="1.2"/>
<text transform="translate(267.40,455.50) scale(1,1.03)" font-size="16" text-anchor="start" font-weight="bold" fill="#111" >F</text>
<line x1="316" y1="460.6" x2="316" y2="592.7" stroke="#1e1e1e" stroke-width="1.6"/>
<line x1="311.7" y1="592.7" x2="316" y2="592.7" stroke="#1e1e1e" stroke-width="1.2"/>
<text transform="translate(307.40,595.90) scale(1,1.08)" font-size="9.7" text-anchor="end" font-weight="normal" fill="#231f20" >0</text>
<line x1="311.7" y1="560.7750000000001" x2="316" y2="560.7750000000001" stroke="#1e1e1e" stroke-width="1.2"/>
<text transform="translate(307.40,563.98) scale(1,1.08)" font-size="9.7" text-anchor="end" font-weight="normal" fill="#231f20" >2000</text>
<line x1="311.7" y1="528.85" x2="316" y2="528.85" stroke="#1e1e1e" stroke-width="1.2"/>
<text transform="translate(307.40,532.05) scale(1,1.08)" font-size="9.7" text-anchor="end" font-weight="normal" fill="#231f20" >4000</text>
<line x1="311.7" y1="496.925" x2="316" y2="496.925" stroke="#1e1e1e" stroke-width="1.2"/>
<text transform="translate(307.40,500.12) scale(1,1.08)" font-size="9.7" text-anchor="end" font-weight="normal" fill="#231f20" >6000</text>
<line x1="311.7" y1="465.0" x2="316" y2="465.0" stroke="#1e1e1e" stroke-width="1.2"/>
<text transform="translate(307.40,468.20) scale(1,1.08)" font-size="9.7" text-anchor="end" font-weight="normal" fill="#231f20" >8000</text>
<line x1="315.2" y1="592.7" x2="509.3" y2="592.7" stroke="#1e1e1e" stroke-width="1.6"/>
<line x1="337.5" y1="592.7" x2="337.5" y2="596.9000000000001" stroke="#1e1e1e" stroke-width="1.2"/>
<line x1="387.3" y1="592.7" x2="387.3" y2="596.9000000000001" stroke="#1e1e1e" stroke-width="1.2"/>
<line x1="437.7" y1="592.7" x2="437.7" y2="596.9000000000001" stroke="#1e1e1e" stroke-width="1.2"/>
<line x1="487.5" y1="592.7" x2="487.5" y2="596.9000000000001" stroke="#1e1e1e" stroke-width="1.2"/>
<line x1="413.2" y1="593.6" x2="413.2" y2="463.5" stroke="#1c1c1c" stroke-width="1.5" stroke-dasharray="4.8 3.0"/>
<text transform="translate(337.50,610.30) scale(1,1.08)" font-size="9.2" text-anchor="middle" font-weight="normal" fill="#231f20" >WT</text>
<text transform="translate(387.40,610.30) scale(1,1.08)" font-size="9.2" text-anchor="middle" font-weight="normal" fill="#231f20" >Th3/+</text>
<text transform="translate(437.70,610.30) scale(1,1.08)" font-size="9.2" text-anchor="middle" font-weight="normal" fill="#231f20" >WT</text>
<text transform="translate(487.50,610.30) scale(1,1.08)" font-size="9.2" text-anchor="middle" font-weight="normal" fill="#231f20" >Th3/+</text>
<line x1="328.7" y1="616.5" x2="393.1" y2="616.5" stroke="#231f20" stroke-width="1.3"/>
<text transform="translate(360.90,629.20) scale(1,1.08)" font-size="9.2" text-anchor="middle" font-weight="normal" fill="#231f20" >4 Weeks</text>
<line x1="428.3" y1="616.5" x2="492.7" y2="616.5" stroke="#231f20" stroke-width="1.3"/>
<text transform="translate(460.30,629.20) scale(1,1.08)" font-size="9.2" text-anchor="middle" font-weight="normal" fill="#231f20" >12 Weeks</text>
<text transform="translate(330.40,472.00) scale(1,1.08)" font-size="9.0" text-anchor="start" font-weight="normal" fill="#231f20" >Genotype x Age,</text>
<text transform="translate(330.40,481.60) scale(1,1.08)" font-size="9.0" text-anchor="start" font-weight="normal" fill="#231f20" ><tspan font-style="italic">P</tspan> = .01</text>
<text transform="translate(277.3,526.8) rotate(-90)" x="0" y="0" font-size="11.6" text-anchor="middle" font-weight="normal" fill="#231f20" stroke="#231f20" stroke-width="0.25" textLength="84" lengthAdjust="spacingAndGlyphs">Serum ferritin (ng/ml)</text>
<circle cx="324.10" cy="582" r="1.9" fill="#133d65"/>
<circle cx="328.60" cy="581.5" r="1.9" fill="#133d65"/>
<circle cx="333.10" cy="582.2" r="1.9" fill="#133d65"/>
<circle cx="324.10" cy="586" r="1.9" fill="#133d65"/>
<circle cx="330.10" cy="584.5" r="1.9" fill="#133d65"/>
<line x1="328.6" y1="582.3" x2="328.6" y2="585.1" stroke="#24507a" stroke-width="1"/>
<line x1="325.6" y1="582.3" x2="331.6" y2="582.3" stroke="#24507a" stroke-width="1"/>
<line x1="325.6" y1="585.1" x2="331.6" y2="585.1" stroke="#24507a" stroke-width="1"/>
<line x1="322.6" y1="583.7" x2="334.6" y2="583.7" stroke="#24507a" stroke-width="1.2"/>
<rect x="340.75" y="582.25" width="3.5" height="3.5" fill="#bf0f2f"/>
<rect x="343.75" y="581.45" width="3.5" height="3.5" fill="#bf0f2f"/>
<rect x="346.75" y="582.25" width="3.5" height="3.5" fill="#bf0f2f"/>
<rect x="349.75" y="584.45" width="3.5" height="3.5" fill="#bf0f2f"/>
<rect x="345.25" y="584.25" width="3.5" height="3.5" fill="#bf0f2f"/>
<line x1="347" y1="583.8" x2="347" y2="585.8" stroke="#bd1a3a" stroke-width="1"/>
<line x1="344" y1="583.8" x2="350" y2="583.8" stroke="#bd1a3a" stroke-width="1"/>
<line x1="344" y1="585.8" x2="350" y2="585.8" stroke="#bd1a3a" stroke-width="1"/>
<line x1="341" y1="584.8" x2="353" y2="584.8" stroke="#bd1a3a" stroke-width="1.2"/>
<circle cx="378.10" cy="550.4" r="1.9" fill="#133d65"/>
<circle cx="378.10" cy="560.4" r="1.9" fill="#133d65"/>
<circle cx="373.50" cy="566.7" r="1.9" fill="#133d65"/>
<circle cx="382.70" cy="567" r="1.9" fill="#133d65"/>
<circle cx="378.10" cy="570" r="1.9" fill="#133d65"/>
<line x1="378.1" y1="555" x2="378.1" y2="571" stroke="#24507a" stroke-width="1"/>
<line x1="375.1" y1="555" x2="381.1" y2="555" stroke="#24507a" stroke-width="1"/>
<line x1="375.1" y1="571" x2="381.1" y2="571" stroke="#24507a" stroke-width="1"/>
<line x1="372.1" y1="563.1" x2="384.1" y2="563.1" stroke="#24507a" stroke-width="1.2"/>
<rect x="390.95" y="562.25" width="3.5" height="3.5" fill="#bf0f2f"/>
<rect x="395.45" y="561.75" width="3.5" height="3.5" fill="#bf0f2f"/>
<rect x="399.95" y="561.25" width="3.5" height="3.5" fill="#bf0f2f"/>
<rect x="390.95" y="567.75" width="3.5" height="3.5" fill="#bf0f2f"/>
<rect x="399.95" y="567.25" width="3.5" height="3.5" fill="#bf0f2f"/>
<line x1="397.2" y1="564.2" x2="397.2" y2="569.2" stroke="#bd1a3a" stroke-width="1"/>
<line x1="394.2" y1="564.2" x2="400.2" y2="564.2" stroke="#bd1a3a" stroke-width="1"/>
<line x1="394.2" y1="569.2" x2="400.2" y2="569.2" stroke="#bd1a3a" stroke-width="1"/>
<line x1="391.2" y1="566.7" x2="403.2" y2="566.7" stroke="#bd1a3a" stroke-width="1.2"/>
<circle cx="423.80" cy="567.3" r="1.9" fill="#133d65"/>
<circle cx="428.20" cy="566.2" r="1.9" fill="#133d65"/>
<circle cx="432.60" cy="564.6" r="1.9" fill="#133d65"/>
<circle cx="428.20" cy="574.4" r="1.9" fill="#133d65"/>
<circle cx="425.20" cy="569" r="1.9" fill="#133d65"/>
<line x1="428.2" y1="565.2" x2="428.2" y2="571.6" stroke="#24507a" stroke-width="1"/>
<line x1="425.2" y1="565.2" x2="431.2" y2="565.2" stroke="#24507a" stroke-width="1"/>
<line x1="425.2" y1="571.6" x2="431.2" y2="571.6" stroke="#24507a" stroke-width="1"/>
<line x1="422.2" y1="568.4" x2="434.2" y2="568.4" stroke="#24507a" stroke-width="1.2"/>
<rect x="445.25" y="571.05" width="3.5" height="3.5" fill="#bf0f2f"/>
<rect x="441.75" y="576.65" width="3.5" height="3.5" fill="#bf0f2f"/>
<rect x="445.25" y="576.65" width="3.5" height="3.5" fill="#bf0f2f"/>
<rect x="448.75" y="576.65" width="3.5" height="3.5" fill="#bf0f2f"/>
<rect x="443.45" y="574.25" width="3.5" height="3.5" fill="#bf0f2f"/>
<line x1="447" y1="573.9" x2="447" y2="579.1" stroke="#bd1a3a" stroke-width="1"/>
<line x1="444" y1="573.9" x2="450" y2="573.9" stroke="#bd1a3a" stroke-width="1"/>
<line x1="444" y1="579.1" x2="450" y2="579.1" stroke="#bd1a3a" stroke-width="1"/>
<line x1="441" y1="576.5" x2="453" y2="576.5" stroke="#bd1a3a" stroke-width="1.2"/>
<circle cx="478.00" cy="489.5" r="1.9" fill="#133d65"/>
<circle cx="473.60" cy="523" r="1.9" fill="#133d65"/>
<circle cx="482.40" cy="523" r="1.9" fill="#133d65"/>
<circle cx="473.60" cy="536.3" r="1.9" fill="#133d65"/>
<circle cx="482.40" cy="535.2" r="1.9" fill="#133d65"/>
<line x1="478" y1="503.2" x2="478" y2="541.2" stroke="#24507a" stroke-width="1"/>
<line x1="475" y1="503.2" x2="481" y2="503.2" stroke="#24507a" stroke-width="1"/>
<line x1="475" y1="541.2" x2="481" y2="541.2" stroke="#24507a" stroke-width="1"/>
<line x1="472" y1="523" x2="484" y2="523" stroke="#24507a" stroke-width="1.2"/>
<rect x="495.65" y="491.45" width="3.5" height="3.5" fill="#bf0f2f"/>
<rect x="495.65" y="537.45" width="3.5" height="3.5" fill="#bf0f2f"/>
<rect x="495.65" y="546.75" width="3.5" height="3.5" fill="#bf0f2f"/>
<rect x="495.65" y="552.95" width="3.5" height="3.5" fill="#bf0f2f"/>
<rect x="495.65" y="558.45" width="3.5" height="3.5" fill="#bf0f2f"/>
<line x1="497.4" y1="512" x2="497.4" y2="566.2" stroke="#bd1a3a" stroke-width="1"/>
<line x1="494.4" y1="512" x2="500.4" y2="512" stroke="#bd1a3a" stroke-width="1"/>
<line x1="494.4" y1="566.2" x2="500.4" y2="566.2" stroke="#bd1a3a" stroke-width="1"/>
<line x1="491.4" y1="539.2" x2="503.4" y2="539.2" stroke="#bd1a3a" stroke-width="1.2"/>
<text transform="translate(139.50,668.00) scale(1,1.03)" font-size="16" text-anchor="start" font-weight="bold" fill="#111" >G</text>
<line x1="188" y1="673.0" x2="188" y2="805.5" stroke="#1e1e1e" stroke-width="1.6"/>
<line x1="183.7" y1="805.5" x2="188" y2="805.5" stroke="#1e1e1e" stroke-width="1.2"/>
<text transform="translate(179.40,808.70) scale(1,1.08)" font-size="9.4" text-anchor="end" font-weight="normal" fill="#231f20" >0</text>
<line x1="183.7" y1="762.8" x2="188" y2="762.8" stroke="#1e1e1e" stroke-width="1.2"/>
<text transform="translate(179.40,766.00) scale(1,1.08)" font-size="9.4" text-anchor="end" font-weight="normal" fill="#231f20" >400</text>
<line x1="183.7" y1="720.1" x2="188" y2="720.1" stroke="#1e1e1e" stroke-width="1.2"/>
<text transform="translate(179.40,723.30) scale(1,1.08)" font-size="9.4" text-anchor="end" font-weight="normal" fill="#231f20" >800</text>
<line x1="183.7" y1="677.4" x2="188" y2="677.4" stroke="#1e1e1e" stroke-width="1.2"/>
<text transform="translate(179.40,680.60) scale(1,1.08)" font-size="9.4" text-anchor="end" font-weight="normal" fill="#231f20" >1200</text>
<line x1="187.2" y1="805.5" x2="380.5" y2="805.5" stroke="#1e1e1e" stroke-width="1.6"/>
<line x1="209.4" y1="805.5" x2="209.4" y2="809.7" stroke="#1e1e1e" stroke-width="1.2"/>
<line x1="258.8" y1="805.5" x2="258.8" y2="809.7" stroke="#1e1e1e" stroke-width="1.2"/>
<line x1="308.8" y1="805.5" x2="308.8" y2="809.7" stroke="#1e1e1e" stroke-width="1.2"/>
<line x1="358.2" y1="805.5" x2="358.2" y2="809.7" stroke="#1e1e1e" stroke-width="1.2"/>
<line x1="283.1" y1="806.0" x2="283.1" y2="678.0" stroke="#1c1c1c" stroke-width="1.5" stroke-dasharray="4.8 3.0"/>
<text transform="translate(209.40,823.10) scale(1,1.08)" font-size="9.2" text-anchor="middle" font-weight="normal" fill="#231f20" >WT</text>
<text transform="translate(259.40,823.10) scale(1,1.08)" font-size="9.2" text-anchor="middle" font-weight="normal" fill="#231f20" >Th3/+</text>
<text transform="translate(308.70,823.10) scale(1,1.08)" font-size="9.2" text-anchor="middle" font-weight="normal" fill="#231f20" >WT</text>
<text transform="translate(357.70,823.10) scale(1,1.08)" font-size="9.2" text-anchor="middle" font-weight="normal" fill="#231f20" >Th3/+</text>
<line x1="202.3" y1="829.3" x2="265.8" y2="829.3" stroke="#231f20" stroke-width="1.3"/>
<text transform="translate(233.90,842.00) scale(1,1.08)" font-size="9.2" text-anchor="middle" font-weight="normal" fill="#231f20" >4 Weeks</text>
<line x1="301.5" y1="829.3" x2="365" y2="829.3" stroke="#231f20" stroke-width="1.3"/>
<text transform="translate(333.60,842.00) scale(1,1.08)" font-size="9.2" text-anchor="middle" font-weight="normal" fill="#231f20" >12 Weeks</text>
<text transform="translate(198.75,682.00) scale(1,1.08)" font-size="9.0" text-anchor="start" font-weight="normal" fill="#231f20" >Genotype x Age x</text>
<text transform="translate(198.75,693.00) scale(1,1.08)" font-size="9.0" text-anchor="start" font-weight="normal" fill="#231f20" >Sex, <tspan font-style="italic">P</tspan> = .001</text>
<text transform="translate(149.6,739.5) rotate(-90)" x="0" y="0" font-size="11.6" text-anchor="middle" font-weight="normal" fill="#231f20" stroke="#231f20" stroke-width="0.25" textLength="71" lengthAdjust="spacingAndGlyphs">Spleen NHI (μg/g)</text>
<circle cx="196.75" cy="801.5" r="1.9" fill="#133d65"/>
<circle cx="199.75" cy="801" r="1.9" fill="#133d65"/>
<circle cx="202.75" cy="801.5" r="1.9" fill="#133d65"/>
<circle cx="205.75" cy="802" r="1.9" fill="#133d65"/>
<circle cx="201.25" cy="802" r="1.9" fill="#133d65"/>
<line x1="201.25" y1="801" x2="201.25" y2="802.2" stroke="#24507a" stroke-width="1"/>
<line x1="198.25" y1="801" x2="204.25" y2="801" stroke="#24507a" stroke-width="1"/>
<line x1="198.25" y1="802.2" x2="204.25" y2="802.2" stroke="#24507a" stroke-width="1"/>
<line x1="195.25" y1="801.6" x2="207.25" y2="801.6" stroke="#24507a" stroke-width="1.2"/>
<rect x="212.50" y="801.25" width="3.5" height="3.5" fill="#bf0f2f"/>
<rect x="215.50" y="800.75" width="3.5" height="3.5" fill="#bf0f2f"/>
<rect x="218.50" y="801.25" width="3.5" height="3.5" fill="#bf0f2f"/>
<rect x="221.50" y="801.75" width="3.5" height="3.5" fill="#bf0f2f"/>
<rect x="217.00" y="802.25" width="3.5" height="3.5" fill="#bf0f2f"/>
<line x1="218.75" y1="802.6" x2="218.75" y2="803.8" stroke="#bd1a3a" stroke-width="1"/>
<line x1="215.75" y1="802.6" x2="221.75" y2="802.6" stroke="#bd1a3a" stroke-width="1"/>
<line x1="215.75" y1="803.8" x2="221.75" y2="803.8" stroke="#bd1a3a" stroke-width="1"/>
<line x1="212.75" y1="803.2" x2="224.75" y2="803.2" stroke="#bd1a3a" stroke-width="1.2"/>
<circle cx="245.60" cy="791.5" r="1.9" fill="#133d65"/>
<circle cx="248.60" cy="791" r="1.9" fill="#133d65"/>
<circle cx="251.60" cy="791.5" r="1.9" fill="#133d65"/>
<circle cx="254.60" cy="792.5" r="1.9" fill="#133d65"/>
<circle cx="250.10" cy="792.5" r="1.9" fill="#133d65"/>
<line x1="250.1" y1="791.2" x2="250.1" y2="792.6" stroke="#24507a" stroke-width="1"/>
<line x1="247.1" y1="791.2" x2="253.1" y2="791.2" stroke="#24507a" stroke-width="1"/>
<line x1="247.1" y1="792.6" x2="253.1" y2="792.6" stroke="#24507a" stroke-width="1"/>
<line x1="244.1" y1="791.9" x2="256.1" y2="791.9" stroke="#24507a" stroke-width="1.2"/>
<rect x="263.65" y="772.65" width="3.5" height="3.5" fill="#bf0f2f"/>
<rect x="269.45" y="772.65" width="3.5" height="3.5" fill="#bf0f2f"/>
<rect x="262.55" y="780.75" width="3.5" height="3.5" fill="#bf0f2f"/>
<rect x="267.05" y="780.75" width="3.5" height="3.5" fill="#bf0f2f"/>
<rect x="271.55" y="780.75" width="3.5" height="3.5" fill="#bf0f2f"/>
<line x1="268.8" y1="775.5" x2="268.8" y2="783.5" stroke="#bd1a3a" stroke-width="1"/>
<line x1="265.8" y1="775.5" x2="271.8" y2="775.5" stroke="#bd1a3a" stroke-width="1"/>
<line x1="265.8" y1="783.5" x2="271.8" y2="783.5" stroke="#bd1a3a" stroke-width="1"/>
<line x1="262.8" y1="779.6" x2="274.8" y2="779.6" stroke="#bd1a3a" stroke-width="1.2"/>
<circle cx="294.80" cy="764.6" r="1.9" fill="#133d65"/>
<circle cx="303.50" cy="768" r="1.9" fill="#133d65"/>
<circle cx="299.70" cy="772.4" r="1.9" fill="#133d65"/>
<circle cx="303.50" cy="777.3" r="1.9" fill="#133d65"/>
<circle cx="294.80" cy="780.2" r="1.9" fill="#133d65"/>
<line x1="299.7" y1="766.2" x2="299.7" y2="778.6" stroke="#24507a" stroke-width="1"/>
<line x1="296.7" y1="766.2" x2="302.7" y2="766.2" stroke="#24507a" stroke-width="1"/>
<line x1="296.7" y1="778.6" x2="302.7" y2="778.6" stroke="#24507a" stroke-width="1"/>
<line x1="293.7" y1="772.4" x2="305.7" y2="772.4" stroke="#24507a" stroke-width="1.2"/>
<rect x="316.35" y="719.55" width="3.5" height="3.5" fill="#bf0f2f"/>
<rect x="316.35" y="729.75" width="3.5" height="3.5" fill="#bf0f2f"/>
<rect x="311.85" y="734.45" width="3.5" height="3.5" fill="#bf0f2f"/>
<rect x="320.65" y="737.45" width="3.5" height="3.5" fill="#bf0f2f"/>
<rect x="316.35" y="744.55" width="3.5" height="3.5" fill="#bf0f2f"/>
<line x1="318.1" y1="726.2" x2="318.1" y2="743" stroke="#bd1a3a" stroke-width="1"/>
<line x1="315.1" y1="726.2" x2="321.1" y2="726.2" stroke="#bd1a3a" stroke-width="1"/>
<line x1="315.1" y1="743" x2="321.1" y2="743" stroke="#bd1a3a" stroke-width="1"/>
<line x1="312.1" y1="734.8" x2="324.1" y2="734.8" stroke="#bd1a3a" stroke-width="1.2"/>
<circle cx="349.00" cy="704.6" r="1.9" fill="#133d65"/>
<circle cx="349.00" cy="717.6" r="1.9" fill="#133d65"/>
<circle cx="344.40" cy="722.5" r="1.9" fill="#133d65"/>
<circle cx="354.00" cy="722.5" r="1.9" fill="#133d65"/>
<circle cx="349.00" cy="740" r="1.9" fill="#133d65"/>
<line x1="349" y1="708.9" x2="349" y2="734" stroke="#24507a" stroke-width="1"/>
<line x1="346" y1="708.9" x2="352" y2="708.9" stroke="#24507a" stroke-width="1"/>
<line x1="346" y1="734" x2="352" y2="734" stroke="#24507a" stroke-width="1"/>
<line x1="343" y1="722.5" x2="355" y2="722.5" stroke="#24507a" stroke-width="1.2"/>
<rect x="365.15" y="689.05" width="3.5" height="3.5" fill="#bf0f2f"/>
<rect x="365.15" y="697.05" width="3.5" height="3.5" fill="#bf0f2f"/>
<rect x="360.85" y="703.45" width="3.5" height="3.5" fill="#bf0f2f"/>
<rect x="370.25" y="703.45" width="3.5" height="3.5" fill="#bf0f2f"/>
<rect x="365.15" y="714.45" width="3.5" height="3.5" fill="#bf0f2f"/>
<line x1="366.9" y1="694.5" x2="366.9" y2="713.3" stroke="#bd1a3a" stroke-width="1"/>
<line x1="363.9" y1="694.5" x2="369.9" y2="694.5" stroke="#bd1a3a" stroke-width="1"/>
<line x1="363.9" y1="713.3" x2="369.9" y2="713.3" stroke="#bd1a3a" stroke-width="1"/>
<line x1="360.9" y1="705.2" x2="372.9" y2="705.2" stroke="#bd1a3a" stroke-width="1.2"/>
</svg>
<div class="bd"></div>
</body></html>
